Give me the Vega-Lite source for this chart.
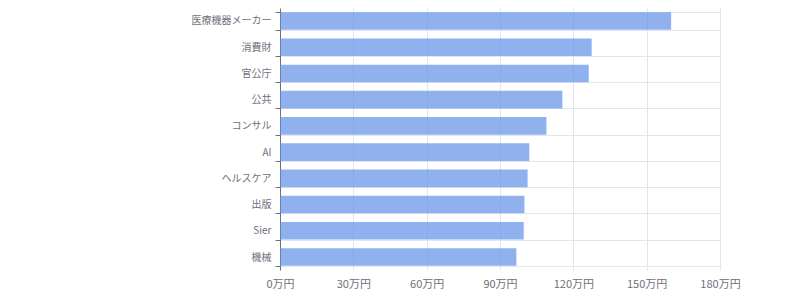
{
  "$schema": "https://vega.github.io/schema/vega-lite/v6.json",
  "autosize": "none",
  "width": 440,
  "height": 262,
  "padding": {"left": 280, "top": 8, "right": 80, "bottom": 30},
  "config": {
    "view": {"stroke": null},
    "font": "Noto Sans CJK JP"
  },
  "data": {
    "values": [
      {"industry": "医療機器メーカー", "salary": 160},
      {"industry": "消費財", "salary": 127.5},
      {"industry": "官公庁", "salary": 126.3},
      {"industry": "公共", "salary": 115.5},
      {"industry": "コンサル", "salary": 109},
      {"industry": "AI", "salary": 102},
      {"industry": "ヘルスケア", "salary": 101.3},
      {"industry": "出版", "salary": 100},
      {"industry": "Sier", "salary": 99.7},
      {"industry": "機械", "salary": 96.7}
    ]
  },
  "mark": {"type": "bar", "color": "#5b8ce6", "opacity": 0.68},
  "encoding": {
    "y": {
      "field": "industry",
      "type": "nominal",
      "sort": null,
      "title": null,
      "scale": {"paddingInner": 0.33, "paddingOuter": 0.16},
      "axis": {
        "tickBand": "extent",
        "grid": true,
        "gridColor": "#e0e6f1",
        "gridWidth": 1,
        "domainColor": "#6e7079",
        "tickColor": "#6e7079",
        "tickSize": 5,
        "labelPadding": 4,
        "labelFontSize": 10,
        "labelColor": "#6e7079",
        "labelFont": "Noto Sans CJK JP"
      }
    },
    "x": {
      "field": "salary",
      "type": "quantitative",
      "title": null,
      "scale": {"domain": [0, 180], "nice": false},
      "axis": {
        "values": [0, 30, 60, 90, 120, 150, 180],
        "labelExpr": "datum.value + '万円'",
        "labelFlush": false,
        "labelOverlap": false,
        "grid": true,
        "gridColor": "#e0e6f1",
        "gridWidth": 1,
        "domain": false,
        "ticks": false,
        "labelPadding": 8,
        "labelFontSize": 11,
        "labelColor": "#6e7079",
        "labelFont": "Noto Sans CJK JP"
      }
    }
  }
}
